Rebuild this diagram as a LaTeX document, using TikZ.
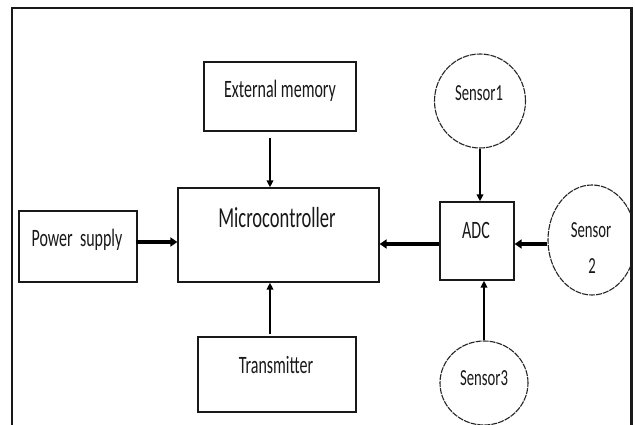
\documentclass[tikz,border=0pt]{standalone}
\usepackage{fontspec}
\setmainfont{Carlito}
\usetikzlibrary{arrows.meta,shapes.geometric}
\newcommand\lbl[2]{\scalebox{0.64}[1]{\fontsize{#1}{#1}\selectfont #2}}
\begin{document}
\begin{tikzpicture}[x=1pt,y=-1pt,
  blk/.style={draw=black!90,line width=1.3pt,rectangle,inner sep=0pt},
  sens/.style={draw=black!85,line width=1.1pt,ellipse,inner sep=0pt,dash pattern=on 6pt off 1pt},
  txt/.style={inner sep=0pt,text=black!90},
  thinarr/.style={line width=2pt,-{Triangle[length=7pt,width=6.5pt]}},
  thickarr/.style={line width=3.8pt,-{Triangle[length=7pt,width=9pt]}}]
\useasboundingbox (0,0) rectangle (635,425);
\fill[white] (0,0) rectangle (635,425);
% boxes
\node[blk,minimum width=152pt,minimum height=69pt] (ext) at (280,96.5) {};
\node[blk,minimum width=201pt,minimum height=94pt] (mc) at (278.5,235) {};
\node[blk,minimum width=118pt,minimum height=71pt] (ps) at (78,246.5) {};
\node[blk,minimum width=158pt,minimum height=75pt] (tx) at (277,374.5) {};
\node[blk,minimum width=74pt,minimum height=78pt] (adc) at (477,241) {};
% sensors
\node[sens,minimum width=91pt,minimum height=94pt] (s1) at (480,101) {};
\node[sens,minimum width=88pt,minimum height=110pt] (s2) at (592,240) {};
\node[sens,minimum width=88pt,minimum height=84pt] (s3) at (484,383) {};
% frame
\fill[white] (633,0) rectangle (640,430);
\draw[line width=2pt,black!90] (12,430) -- (12,8) -- (631,8);
\fill[black!90] (629.5,7) rectangle (633,430);
% labels
\node[txt] (text) at (280,91) {\lbl{25}{External memory}};
\node[txt] (tmc) at (277,218) {\lbl{29}{Microcontroller}};
\node[txt] (tps) at (77,240) {\lbl{25}{Power\ \ supply}};
\node[txt] (ttx) at (276,365) {\lbl{25}{Transmitter}};
\node[txt] (tadc) at (476,230) {\lbl{25}{ADC}};
\node[txt] (ts1) at (479,93) {\lbl{23}{Sensor1}};
\node[txt] (ts2) at (591,230) {\lbl{23}{Sensor}};
\node[txt] (ts2b) at (592,266) {\lbl{23}{2}};
\node[txt] (ts3) at (484,378) {\lbl{23}{Sensor3}};
% connectors
\coordinate (xA) at (270,0);
\coordinate (yP) at (0,242);
\coordinate (yQ) at (0,244);
\draw[thinarr] ([yshift=-6pt]ext.south -| xA) -- (mc.north -| xA);
\draw[thinarr] ([yshift=2pt]tx.north -| xA) -- (mc.south -| xA);
\draw[thickarr] ([xshift=-2pt]ps.east |- yP) -- (mc.west |- yP);
\draw[thickarr] (adc.west |- yQ) -- (mc.east |- yQ);
\draw[thickarr] (s2.west |- yQ) -- (adc.east |- yQ);
\draw[thinarr] (s1.south) -- (adc.north -| s1.south);
\draw[thinarr] (s3.north) -- (adc.south -| s3.north);
\end{tikzpicture}
\end{document}
